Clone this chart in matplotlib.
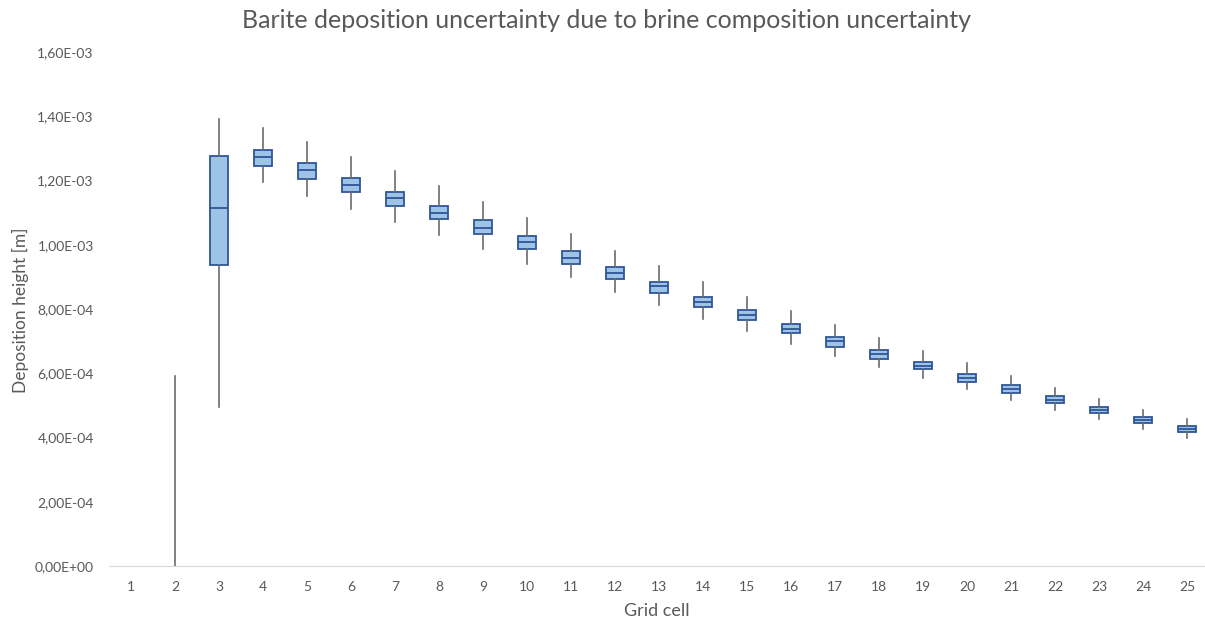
import matplotlib.pyplot as plt
from matplotlib.ticker import FuncFormatter

# Box plot statistics per grid cell (cell 1 has no deposition data)
cells = list(range(1, 26))
plot_cells = list(range(2, 26))
whisker_low = [0.0, 4.94e-4, 1.194e-3, 1.152e-3, 1.111e-3, 1.072e-3, 1.030e-3, 0.986e-3,
               0.940e-3, 0.899e-3, 0.852e-3, 0.812e-3, 0.770e-3, 0.732e-3, 0.690e-3,
               0.653e-3, 0.618e-3, 0.585e-3, 0.550e-3, 0.517e-3, 0.486e-3, 0.457e-3,
               0.426e-3, 0.399e-3]
q1 = [0.0, 0.937e-3, 1.245e-3, 1.205e-3, 1.163e-3, 1.121e-3, 1.079e-3, 1.033e-3,
      0.986e-3, 0.939e-3, 0.894e-3, 0.849e-3, 0.807e-3, 0.766e-3, 0.724e-3,
      0.683e-3, 0.645e-3, 0.612e-3, 0.574e-3, 0.540e-3, 0.506e-3, 0.475e-3,
      0.445e-3, 0.418e-3]
median = [0.0, 1.114e-3, 1.273e-3, 1.232e-3, 1.186e-3, 1.145e-3, 1.100e-3, 1.053e-3,
          1.008e-3, 0.960e-3, 0.913e-3, 0.871e-3, 0.823e-3, 0.781e-3, 0.738e-3,
          0.699e-3, 0.660e-3, 0.624e-3, 0.585e-3, 0.552e-3, 0.518e-3, 0.486e-3,
          0.456e-3, 0.426e-3]
q3 = [0.0, 1.276e-3, 1.295e-3, 1.254e-3, 1.209e-3, 1.163e-3, 1.122e-3, 1.077e-3,
      1.027e-3, 0.979e-3, 0.930e-3, 0.884e-3, 0.838e-3, 0.797e-3, 0.752e-3,
      0.714e-3, 0.673e-3, 0.635e-3, 0.598e-3, 0.563e-3, 0.529e-3, 0.495e-3,
      0.465e-3, 0.435e-3]
whisker_high = [5.92e-4, 1.391e-3, 1.364e-3, 1.319e-3, 1.273e-3, 1.229e-3, 1.183e-3, 1.134e-3,
                1.084e-3, 1.033e-3, 0.982e-3, 0.934e-3, 0.884e-3, 0.838e-3, 0.793e-3,
                0.751e-3, 0.710e-3, 0.668e-3, 0.631e-3, 0.592e-3, 0.555e-3, 0.521e-3,
                0.487e-3, 0.457e-3]

stats = []
for i in range(len(plot_cells)):
    stats.append({'whislo': whisker_low[i], 'q1': q1[i], 'med': median[i],
                  'q3': q3[i], 'whishi': whisker_high[i], 'fliers': []})

grey = '#595959'
plt.rcParams['font.family'] = ['Lato', 'DejaVu Sans']


def sci_comma(v, pos):
    mant, exp = ('%.2E' % v).split('E')
    return '%sE%s%02d' % (mant.replace('.', ','), exp[0], abs(int(exp)))


fig = plt.figure(figsize=(12.05, 6.24), dpi=100)
ax = fig.add_axes([109 / 1205, 58 / 624, 1096 / 1205, 514 / 624])

parts = ax.bxp(stats, positions=plot_cells, widths=0.4, patch_artist=True,
               showcaps=False, showfliers=False,
               boxprops=dict(facecolor='#9DC3E6', edgecolor='#2F5597', linewidth=1.3),
               medianprops=dict(color='#2F5597', linewidth=1.3),
               whiskerprops=dict(color='#6B6B6B', linewidth=1.2))
# a cell whose quartiles are all zero shows only its whisker
for i, s in enumerate(stats):
    if s['q3'] <= s['q1']:
        parts['boxes'][i].set_visible(False)
        parts['medians'][i].set_visible(False)

ax.set_xlim(0.5, 0.5 + 1096 / 44)
ax.set_ylim(0, 1.6e-3)
ax.set_xticks(cells)
ax.set_xticklabels([str(c) for c in cells])
ax.set_yticks([i * 2e-4 for i in range(9)])
ax.yaxis.set_major_formatter(FuncFormatter(sci_comma))

for s in ['top', 'right', 'left']:
    ax.spines[s].set_visible(False)
ax.spines['bottom'].set_color('#D9D9D9')
ax.tick_params(axis='both', length=0, colors=grey, labelsize=10)
ax.tick_params(axis='y', pad=11)
ax.tick_params(axis='x', pad=11)

fig.text(0.503, 0.967, 'Barite deposition uncertainty due to brine composition uncertainty',
         color=grey, fontsize=18, ha='center', va='center')
ax.set_xlabel('Grid cell', color=grey, fontsize=13, labelpad=7)
fig.text(20 / 1205, 1 - 310 / 624, 'Deposition height [m]', color=grey, fontsize=12.5,
         rotation=90, ha='center', va='center')

fig.savefig('out.png', dpi=100)
